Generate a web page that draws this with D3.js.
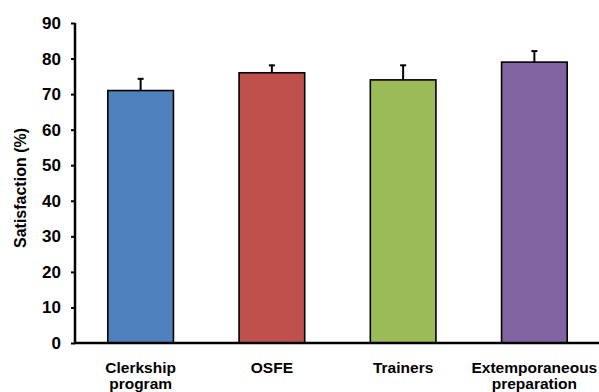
<!DOCTYPE html>
<html>
<head>
<meta charset="utf-8">
<script src="https://cdn.jsdelivr.net/npm/d3@7"></script>
<style>
  body { margin: 0; background: #fff; }
  svg { display: block; font-family: "Liberation Sans", Arial, sans-serif; }
</style>
</head>
<body>
<svg id="chart" width="599" height="392"></svg>
<script>
// data
var categories = ["Clerkship program", "OSFE", "Trainers", "Extemporaneous preparation"];
var labelLines = [["Clerkship", "program"], ["OSFE"], ["Trainers"], ["Extemporaneous", "preparation"]];
var values = [71, 76, 74, 79];
var errors = [3.3, 2.1, 4.1, 3.1];
var colors = ["#4f81bd", "#c0504d", "#9bbb59", "#8064a2"];
var yTicks = [0, 10, 20, 30, 40, 50, 60, 70, 80, 90];

var svg = d3.select("#chart");

var x = d3.scaleBand()
    .domain(categories)
    .range([75, 600])
    .paddingInner(0.5)
    .paddingOuter(0.25);

var y = d3.scaleLinear()
    .domain([0, 90])
    .range([343, 23]);

// bars
svg.append("g")
    .selectAll("rect")
    .data(categories)
    .join("rect")
    .attr("x", d => x(d))
    .attr("y", (d, i) => y(values[i]))
    .attr("width", x.bandwidth())
    .attr("height", (d, i) => y(0) - y(values[i]))
    .attr("fill", (d, i) => colors[i])
    .attr("stroke", "#000")
    .attr("stroke-width", 1.6);

// error bars (upper only)
var err = svg.append("g").attr("stroke", "#000").attr("stroke-width", 2);
categories.forEach((d, i) => {
    var cx = x(d) + x.bandwidth() / 2;
    err.append("line")
        .attr("x1", cx).attr("x2", cx)
        .attr("y1", y(values[i])).attr("y2", y(values[i] + errors[i]));
    err.append("line")
        .attr("x1", cx - 3).attr("x2", cx + 3)
        .attr("y1", y(values[i] + errors[i])).attr("y2", y(values[i] + errors[i]));
});

// y axis
var yAxis = svg.append("g")
    .attr("transform", "translate(75,0)")
    .call(d3.axisLeft(y).tickValues(yTicks).tickSize(4).tickPadding(10));
yAxis.select(".domain").attr("stroke", "#000").attr("stroke-width", 2.5)
    .attr("d", "M0," + y(90) + "V" + y(0));
yAxis.selectAll(".tick line").attr("stroke", "#000").attr("stroke-width", 2);
yAxis.selectAll(".tick text")
    .attr("fill", "#000")
    .style("font-size", "17px")
    .style("font-weight", "bold");

// x axis baseline
svg.append("line")
    .attr("x1", 74).attr("x2", 599)
    .attr("y1", y(0)).attr("y2", y(0))
    .attr("stroke", "#000").attr("stroke-width", 2.5);

// category labels
var xl = svg.append("g");
categories.forEach((d, i) => {
    var t = xl.append("text")
        .attr("x", x(d) + x.bandwidth() / 2)
        .attr("y", 373)
        .attr("text-anchor", "middle")
        .style("font-size", "15.5px")
        .style("font-weight", "bold")
        .attr("fill", "#000");
    labelLines[i].forEach((line, j) => {
        t.append("tspan")
            .attr("x", x(d) + x.bandwidth() / 2)
            .attr("dy", j ? 16 : 0)
            .text(line);
    });
});

// y title
svg.append("text")
    .attr("transform", "translate(26,188) rotate(-90)")
    .attr("text-anchor", "middle")
    .style("font-size", "16px")
    .style("font-weight", "bold")
    .attr("fill", "#000")
    .text("Satisfaction (%)");
</script>
</body>
</html>
